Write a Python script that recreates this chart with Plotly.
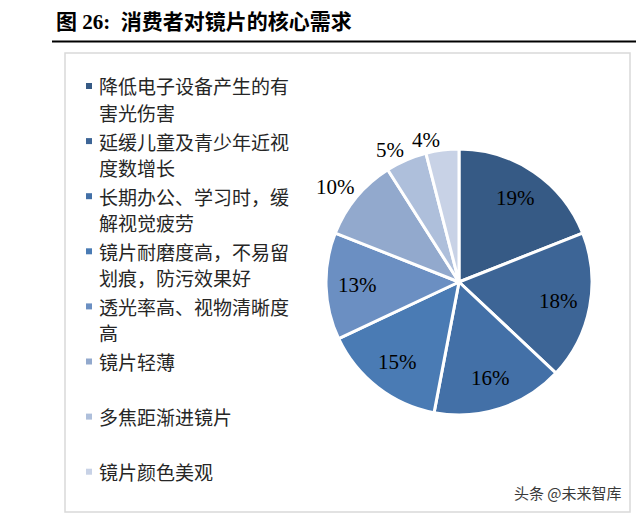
import math
import plotly.graph_objects as go

# ---- data ----
categories = [
    "降低电子设备产生的有害光伤害",
    "延缓儿童及青少年近视度数增长",
    "长期办公、学习时，缓解视觉疲劳",
    "镜片耐磨度高，不易留划痕，防污效果好",
    "透光率高、视物清晰度高",
    "镜片轻薄",
    "多焦距渐进镜片",
    "镜片颜色美观",
]
legend_lines = [
    ["降低电子设备产生的有", "害光伤害"],
    ["延缓儿童及青少年近视", "度数增长"],
    ["长期办公、学习时，缓", "解视觉疲劳"],
    ["镜片耐磨度高，不易留", "划痕，防污效果好"],
    ["透光率高、视物清晰度", "高"],
    ["镜片轻薄"],
    ["多焦距渐进镜片"],
    ["镜片颜色美观"],
]
shares = [19, 18, 16, 15, 13, 10, 5, 4]
title_text = "图 26:  消费者对镜片的核心需求"
watermark = "头条 @未来智库"

# ---- style ----
colors = ["#365a85", "#3d6596", "#4370a7", "#4a7bb4", "#6b8fc2",
          "#92a9cd", "#aebfdb", "#c8d2e6"]
W, H = 640, 520
cx, cy, r = 459, 282, 133

def px(x):
    return x / W

def py(y):
    return 1 - y / H

fig = go.Figure()
fig.add_trace(go.Pie(
    labels=categories,
    values=shares,
    sort=False,
    direction="clockwise",
    rotation=0,
    marker=dict(colors=colors, line=dict(color="white", width=3)),
    textinfo="none",
    automargin=False,
    showlegend=False,
    hoverinfo="label+percent",
    domain=dict(x=[px(cx - r), px(cx + r)], y=[py(cy + r), py(cy - r)]),
))

annotations = []
shapes = []

# slice value labels, placed at each slice's mid angle
total = sum(shares)
cum = 0
label_font = dict(family="Liberation Serif", size=21, color="black")
for v in shares:
    mid = (cum + v / 2) / total * 2 * math.pi
    cum += v
    if v >= 13:
        rad = 0.76 * r
        lx = cx + rad * math.sin(mid)
        ly = cy - rad * math.cos(mid)
        annotations.append(dict(
            x=px(lx), y=py(ly), xref="paper", yref="paper",
            xanchor="center", yanchor="middle", text=f"{v}%", showarrow=False,
            font=label_font,
        ))
    else:
        rad = 1.0 * r
        lx = cx + rad * math.sin(mid)
        ly = cy - rad * math.cos(mid)
        annotations.append(dict(
            x=px(lx), y=py(ly), xref="paper", yref="paper",
            xanchor="right", yanchor="bottom", yshift=-4,
            text=f"{v}%", showarrow=False, font=label_font,
        ))

# title
annotations.append(dict(
    x=px(54), y=py(22), xref="paper", yref="paper", xanchor="left", yanchor="middle",
    text="<b>" + title_text + "</b>", showarrow=False,
    font=dict(family="Liberation Serif, Noto Sans CJK SC", size=21, color="black"),
))
# rule under title
shapes.append(dict(type="line", xref="paper", yref="paper",
                   x0=px(52), x1=px(636), y0=py(41.5), y1=py(41.5),
                   line=dict(color="black", width=1.8)))
# frame box
shapes.append(dict(type="rect", xref="paper", yref="paper",
                   x0=px(65), x1=px(630), y0=py(53), y1=py(512),
                   line=dict(color="#d9d9d9", width=1.5)))

# legend (custom, wrapped text)
for i, lines in enumerate(legend_lines):
    y0 = 86 + 55.1 * i
    shapes.append(dict(type="rect", xref="paper", yref="paper",
                       x0=px(86), x1=px(92), y0=py(y0 - 3), y1=py(y0 + 3),
                       line=dict(width=0), fillcolor=colors[i]))
    for j, t in enumerate(lines):
        annotations.append(dict(
            x=px(97), y=py(y0 + 26 * j), xref="paper", yref="paper",
            xanchor="left", yanchor="middle", text=t, showarrow=False,
            font=dict(family="Noto Sans CJK SC", size=19, color="#262626"),
        ))

# watermark
annotations.append(dict(
    x=px(624), y=py(492), xref="paper", yref="paper", xanchor="right", yanchor="middle",
    text=watermark, showarrow=False,
    font=dict(family="Noto Sans CJK SC", size=15, color="#3a3a3a"),
))

fig.update_layout(
    width=W, height=H,
    margin=dict(l=0, r=0, t=0, b=0),
    paper_bgcolor="white", plot_bgcolor="white",
    annotations=annotations, shapes=shapes,
)

fig.write_html("out.html")
